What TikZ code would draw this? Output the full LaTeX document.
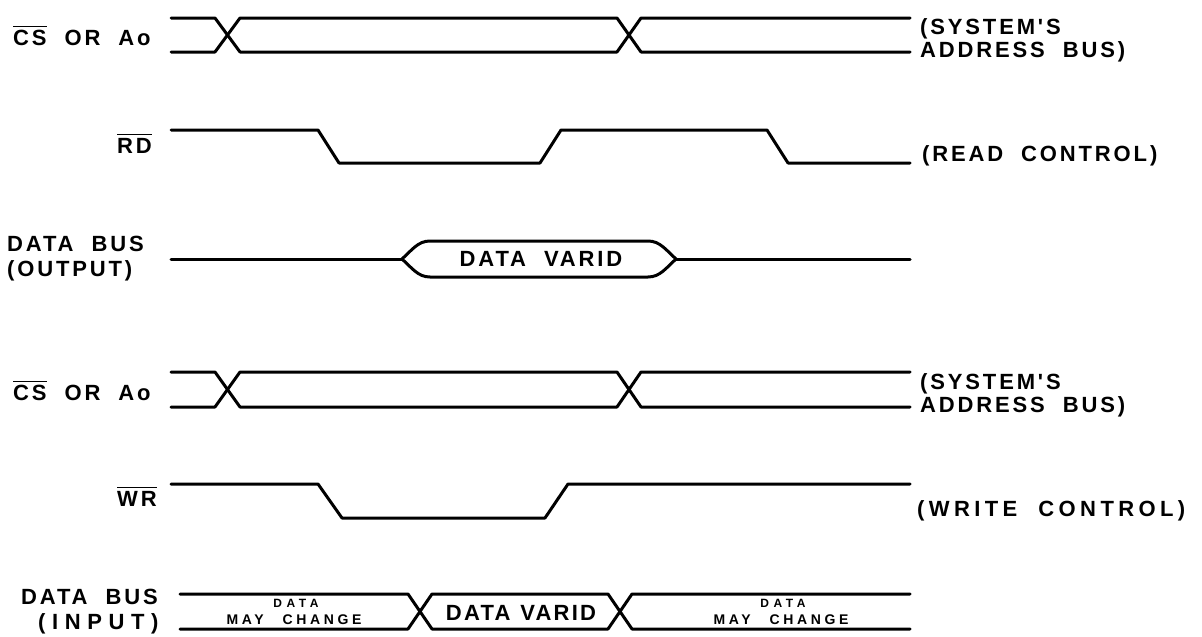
\documentclass[tikz,border=0pt]{standalone}
\usepackage{fontspec}
\newfontfamily\lbl[LetterSpace=13,WordSpace=2]{Liberation Sans Bold}
\newfontfamily\lblwr[LetterSpace=20,WordSpace=2]{Liberation Sans Bold}
\newfontfamily\lblwide[LetterSpace=30,WordSpace=2]{Liberation Sans Bold}
\newfontfamily\lblvar[LetterSpace=10,WordSpace=1.2]{Liberation Sans Bold}
\newfontfamily\smlA[LetterSpace=38]{Liberation Sans Bold}
\newfontfamily\smlB[LetterSpace=26,WordSpace=2.5]{Liberation Sans Bold}
\newcommand\ovl[1]{\vbox{\hrule height 1.6pt\kern 2.4pt\hbox{#1}}}
\tikzset{
  wave/.style={line width=3pt, line join=round, line cap=round},
  lab/.style={font=\lbl\fontsize{22}{25}\selectfont, inner sep=0pt, anchor=base west},
  labwr/.style={font=\lblwr\fontsize{22}{25}\selectfont, inner sep=0pt, anchor=base west},
  labw/.style={font=\lblwide\fontsize{22}{25}\selectfont, inner sep=0pt, anchor=base west},
  labv/.style={font=\lblvar\fontsize{22}{25}\selectfont, inner sep=0pt, anchor=base},
  smallA/.style={font=\smlA\fontsize{12}{14}\selectfont, inner sep=0pt, anchor=base},
  smallB/.style={font=\smlB\fontsize{14}{16}\selectfont, inner sep=0pt, anchor=base},
}
\begin{document}
\begin{tikzpicture}[x=1pt,y=-1pt]
\useasboundingbox (0,0) rectangle (1202,637);
% ---- Row 1: CS or Ao (read) ----
\node[lab] (l1) at (13,45) {\ovl{CS} OR Ao};
\draw[wave] (171,18) -- (215,18) -- (240,52) -- (617,52) -- (641,18) -- (910,18);
\draw[wave] (171,52) -- (215,52) -- (240,18) -- (617,18) -- (641,52) -- (910,52);
\node[lab] (r1a) at (920,34) {(SYSTEM'S};
\node[lab] (r1b) at (920,57) {ADDRESS BUS)};
% ---- Row 2: RD ----
\node[lab] (l2) at (117,153) {\ovl{RD}};
\draw[wave] (171,130) -- (318,130) -- (339,163) -- (540,163) -- (561,130) -- (767,130) -- (788,163) -- (910,163);
\node[lab] (r2) at (922,161) {(READ CONTROL)};
% ---- Row 3: data bus output ----
\node[lab] (l3a) at (7,251) {DATA BUS};
\node[lab] (l3b) at (7,276) {(OUTPUT)};
\draw[wave] (171,259) -- (402,259);
\draw[wave] (676,259) -- (910,259);
\draw[wave] (402,259) .. controls (412,250) and (418,241) .. (430,241) -- (648,241)
  .. controls (660,241) and (666,250) .. (676,259)
  .. controls (666,268) and (660,277) .. (648,277) -- (430,277)
  .. controls (418,277) and (412,268) .. (402,259) -- cycle;
\node[lab, anchor=base] (dv1) at (541,266) {DATA VARID};
% ---- Row 4: CS or Ao (write) ----
\node[lab] (l4) at (13,400) {\ovl{CS} OR Ao};
\draw[wave] (171,372) -- (215,372) -- (240,407) -- (617,407) -- (641,372) -- (910,372);
\draw[wave] (171,407) -- (215,407) -- (240,372) -- (617,372) -- (641,407) -- (910,407);
\node[lab] (r4a) at (920,389) {(SYSTEM'S};
\node[lab] (r4b) at (920,412) {ADDRESS BUS)};
% ---- Row 5: WR ----
\node[lab] (l5) at (117,506) {\ovl{WR}};
\draw[wave] (171,484) -- (318,484) -- (342,518) -- (545,518) -- (568,484) -- (910,484);
\node[labwr] (r5) at (917,516) {(WRITE CONTROL)};
% ---- Row 6: data bus input ----
\node[lab] (l6a) at (21,604) {DATA BUS};
\node[labw] (l6b) at (38,629) {(INPUT)};
\draw[wave] (180,594) -- (408,594) -- (432,629) -- (608,629) -- (632,594) -- (910,594);
\draw[wave] (180,629) -- (408,629) -- (432,594) -- (608,594) -- (632,629) -- (910,629);
\node[smallA] (mc1a) at (296,607) {DATA};
\node[smallB] (mc1b) at (294,624) {MAY CHANGE};
\node[labv] (dv2) at (521,620) {DATA VARID};
\node[smallA] (mc2a) at (783,607) {DATA};
\node[smallB] (mc2b) at (781,624) {MAY CHANGE};
\end{tikzpicture}
\end{document}
